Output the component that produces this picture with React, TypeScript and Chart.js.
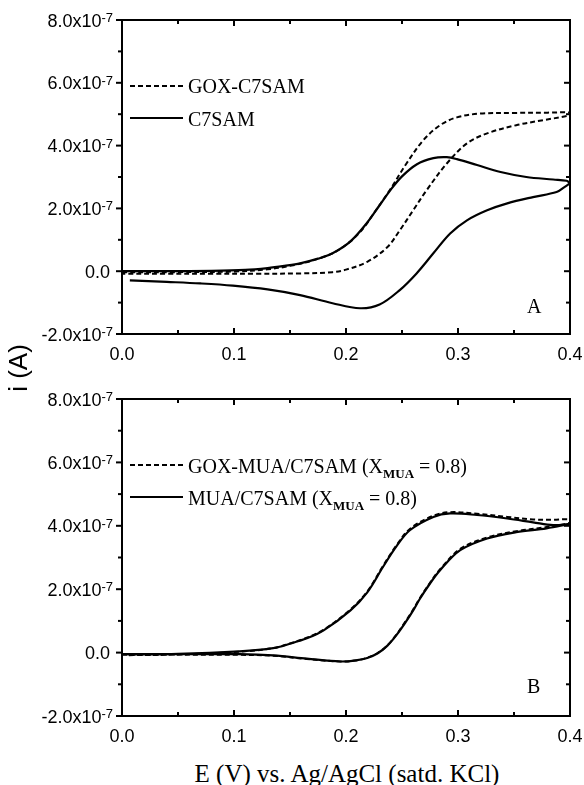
import React, { useEffect, useRef } from 'react';
import { Chart, registerables } from 'chart.js';

Chart.register(...registerables);

// ---------- axes ----------
const X_TICKS = [0, 0.1, 0.2, 0.3, 0.4];
const X_MINOR = [0.05, 0.15, 0.25, 0.35];
const Y_TICKS = [-2, 0, 2, 4, 6, 8]; // units of 1e-7 A
const Y_MINOR = [-1, 1, 3, 5, 7];
const Y_EXP = '-7';

const X_TITLE = 'E (V) vs. Ag/AgCl (satd. KCl)';
const Y_TITLE = 'i (A)';

// ---------- Panel A (current in 1e-7 A) ----------
const A_LABELS = ['GOX-C7SAM', 'C7SAM'];

const A_DASH_FWD_E = [0.0, 0.05, 0.1, 0.13, 0.15, 0.17, 0.188, 0.204, 0.215, 0.224, 0.239, 0.254, 0.269, 0.284, 0.299, 0.32, 0.35, 0.38, 0.4];
const A_DASH_FWD_I = [-0.03, -0.03, -0.01, 0.06, 0.17, 0.34, 0.57, 0.95, 1.35, 1.8, 2.58, 3.43, 4.17, 4.65, 4.9, 5.02, 5.04, 5.05, 5.05];
const A_DASH_REV_E = [0.4, 0.376, 0.352, 0.326, 0.308, 0.29, 0.272, 0.26, 0.248, 0.237, 0.219, 0.2, 0.188, 0.16, 0.12, 0.08, 0.04, 0.0];
const A_DASH_REV_I = [4.97, 4.81, 4.65, 4.39, 4.07, 3.43, 2.58, 1.94, 1.3, 0.77, 0.3, 0.05, -0.03, -0.07, -0.08, -0.08, -0.08, -0.08];

const A_SOLID_FWD_E = [0.0, 0.04, 0.08, 0.11, 0.13, 0.145, 0.159, 0.175, 0.188, 0.204, 0.219, 0.23, 0.24, 0.25, 0.263, 0.278, 0.29, 0.299, 0.317, 0.338, 0.361, 0.385, 0.397, 0.4];
const A_SOLID_FWD_I = [0.0, 0.0, 0.01, 0.04, 0.1, 0.17, 0.25, 0.4, 0.57, 0.95, 1.55, 2.1, 2.6, 3.02, 3.4, 3.6, 3.63, 3.57, 3.38, 3.16, 3.0, 2.92, 2.88, 2.8];
const A_SOLID_REV_E = [0.4, 0.395, 0.388, 0.367, 0.344, 0.326, 0.308, 0.293, 0.278, 0.263, 0.248, 0.23, 0.2125, 0.188, 0.159, 0.13, 0.099, 0.07, 0.04, 0.007];
const A_SOLID_REV_I = [2.8, 2.68, 2.52, 2.36, 2.16, 1.94, 1.62, 1.2, 0.57, -0.07, -0.6, -1.06, -1.18, -1.02, -0.76, -0.58, -0.46, -0.39, -0.34, -0.29];

// ---------- Panel B (current in 1e-7 A) ----------
const B_LABEL_MAIN = ['GOX-MUA/C7SAM (X', 'MUA/C7SAM (X'];
const B_LABEL_SUB = 'MUA';
const B_LABEL_TAIL = ' = 0.8)';

const B_DASH_FWD_E = [0.0, 0.05, 0.105, 0.135, 0.15, 0.165, 0.18, 0.204, 0.219, 0.233, 0.245, 0.257, 0.278, 0.293, 0.317, 0.344, 0.367, 0.385, 0.4];
const B_DASH_FWD_I = [-0.07, -0.06, 0.03, 0.14, 0.29, 0.47, 0.72, 1.36, 1.93, 2.73, 3.38, 3.9, 4.32, 4.43, 4.38, 4.28, 4.2, 4.19, 4.2];
const B_DASH_REV_E = [0.4, 0.379, 0.352, 0.326, 0.302, 0.284, 0.275, 0.266, 0.26, 0.254, 0.245, 0.237, 0.228, 0.219, 0.21, 0.195, 0.165, 0.135, 0.105, 0.05, 0.005];
const B_DASH_REV_I = [4.1, 3.96, 3.83, 3.63, 3.27, 2.63, 2.2, 1.72, 1.36, 1.03, 0.57, 0.23, -0.02, -0.16, -0.24, -0.28, -0.2, -0.1, -0.07, -0.07, -0.08];

const B_SOLID_FWD_E = [0.0, 0.05, 0.105, 0.135, 0.15, 0.165, 0.18, 0.204, 0.219, 0.233, 0.245, 0.257, 0.278, 0.293, 0.317, 0.344, 0.367, 0.385, 0.4];
const B_SOLID_FWD_I = [-0.05, -0.04, 0.04, 0.14, 0.28, 0.45, 0.7, 1.33, 1.9, 2.7, 3.35, 3.86, 4.28, 4.39, 4.34, 4.23, 4.11, 4.02, 4.06];
const B_SOLID_REV_E = [0.4, 0.379, 0.352, 0.326, 0.302, 0.284, 0.275, 0.266, 0.26, 0.254, 0.245, 0.237, 0.228, 0.219, 0.21, 0.195, 0.165, 0.135, 0.105, 0.05, 0.005];
const B_SOLID_REV_I = [4.06, 3.92, 3.8, 3.6, 3.23, 2.6, 2.18, 1.7, 1.33, 1.0, 0.55, 0.22, -0.03, -0.17, -0.24, -0.28, -0.19, -0.09, -0.05, -0.05, -0.06];

const SANS = '"Liberation Sans", Arial, sans-serif';
const SERIF = '"Liberation Serif", "Times New Roman", serif';

const toPts = (fe: number[], fi: number[], re: number[], ri: number[]) => [
  ...fe.map((x, k) => ({ x, y: fi[k] })),
  ...re.map((x, k) => ({ x, y: ri[k] })),
];

const framePlugin = {
  id: 'frame',
  afterDraw(chart: any, _args: any, opts: any) {
    const { ctx, chartArea: a, scales } = chart;
    const xs = scales.x;
    const ys = scales.y;
    ctx.save();
    ctx.strokeStyle = '#000';
    ctx.lineWidth = 2;
    ctx.setLineDash([]);
    ctx.strokeRect(a.left, a.top, a.right - a.left, a.bottom - a.top);
    const seg = (x1: number, y1: number, x2: number, y2: number) => {
      ctx.beginPath();
      ctx.moveTo(x1, y1);
      ctx.lineTo(x2, y2);
      ctx.stroke();
    };
    const xt = (v: number, len: number) => {
      const p = xs.getPixelForValue(v);
      seg(p, a.bottom, p, a.bottom - len);
      seg(p, a.top, p, a.top + len);
    };
    const yt = (v: number, len: number) => {
      const p = ys.getPixelForValue(v);
      seg(a.left - len, p, a.left, p);
      seg(a.right - len, p, a.right, p);
    };
    X_TICKS.forEach((v) => xt(v, 6));
    X_MINOR.forEach((v) => xt(v, 4));
    Y_TICKS.forEach((v) => yt(v, 6));
    Y_MINOR.forEach((v) => yt(v, 4));

    ctx.fillStyle = '#000';
    ctx.textAlign = 'right';
    ctx.textBaseline = 'alphabetic';
    Y_TICKS.forEach((v) => {
      const p = ys.getPixelForValue(v);
      if (v === 0) {
        ctx.font = '18px ' + SANS;
        ctx.fillText('0.0', a.left - 12, p + 6.5);
        return;
      }
      const xr = a.left - 9;
      ctx.font = '13px ' + SANS;
      const w = ctx.measureText(Y_EXP).width;
      ctx.fillText(Y_EXP, xr, p + 2);
      ctx.font = '18px ' + SANS;
      ctx.fillText(v.toFixed(1) + 'x10', xr - w, p + 6.5);
    });

    (opts.legendY || []).forEach((y: number, k: number) => {
      const ds = chart.data.datasets[k];
      ctx.lineWidth = ds.borderWidth;
      ctx.setLineDash(ds.borderDash || []);
      seg(130, y, 183, y);
    });
    ctx.restore();
  },
};

function makeConfig(dashPts: any[], solidPts: any[], padTop: number, legendY: number[]) {
  return {
    type: 'scatter' as const,
    data: {
      datasets: [
        {
          data: dashPts,
          showLine: true,
          borderColor: '#000',
          borderWidth: 2,
          borderDash: [5, 3],
          pointRadius: 0,
          tension: 0.35,
          fill: false,
        },
        {
          data: solidPts,
          showLine: true,
          borderColor: '#000',
          borderWidth: 2.2,
          pointRadius: 0,
          tension: 0.35,
          fill: false,
        },
      ],
    },
    options: {
      animation: false as const,
      responsive: false,
      maintainAspectRatio: false,
      layout: { padding: { top: padTop, right: 14, left: 0, bottom: 0 } },
      plugins: {
        legend: { display: false },
        tooltip: { enabled: false },
        frame: { legendY },
      },
      scales: {
        x: {
          type: 'linear' as const,
          min: 0,
          max: 0.4,
          grid: { display: false, drawTicks: false },
          border: { display: false },
          ticks: {
            stepSize: 0.1,
            color: '#000',
            padding: 10,
            maxRotation: 0,
            font: { family: SANS, size: 18 },
            callback: (v: any) => Number(v).toFixed(1),
          },
          afterFit: (s: any) => {
            s.height = 36;
            s.paddingLeft = 0;
            s.paddingRight = 0;
          },
        },
        y: {
          type: 'linear' as const,
          min: -2,
          max: 8,
          grid: { display: false, drawTicks: false },
          border: { display: false },
          ticks: { display: false },
          afterFit: (s: any) => {
            s.width = 122;
            s.paddingTop = 0;
            s.paddingBottom = 0;
          },
        },
      },
    },
    plugins: [framePlugin],
  };
}

function Panel({ top, height, config }: { top: number; height: number; config: any }) {
  const ref = useRef<HTMLCanvasElement | null>(null);
  useEffect(() => {
    if (!ref.current) return;
    const chart = new Chart(ref.current, config);
    return () => chart.destroy();
  }, []);
  return (
    <canvas
      ref={ref}
      width={584}
      height={height}
      style={{ position: 'absolute', left: 0, top, width: 584, height }}
    />
  );
}

const serifText = (size: number): React.CSSProperties => ({
  position: 'absolute',
  fontFamily: SERIF,
  fontSize: size,
  lineHeight: `${size}px`,
  whiteSpace: 'nowrap',
  color: '#000',
});

export default function App() {
  const cfgA = makeConfig(
    toPts(A_DASH_FWD_E, A_DASH_FWD_I, A_DASH_REV_E, A_DASH_REV_I),
    toPts(A_SOLID_FWD_E, A_SOLID_FWD_I, A_SOLID_REV_E, A_SOLID_REV_I),
    20,
    [86, 118]
  );
  const cfgB = makeConfig(
    toPts(B_DASH_FWD_E, B_DASH_FWD_I, B_DASH_REV_E, B_DASH_REV_I),
    toPts(B_SOLID_FWD_E, B_SOLID_FWD_I, B_SOLID_REV_E, B_SOLID_REV_I),
    29,
    [95, 127]
  );
  const subStyle: React.CSSProperties = {
    fontSize: 13,
    fontWeight: 'bold',
    verticalAlign: '-5px',
    lineHeight: 0,
  };
  return (
    <div style={{ position: 'absolute', left: 0, top: 0, width: 584, height: 785, background: '#fff', overflow: 'hidden' }}>
      <Panel top={0} height={370} config={cfgA} />
      <Panel top={370} height={382} config={cfgB} />

      <div style={{ ...serifText(20), left: 188, top: 75.5 }}>{A_LABELS[0]}</div>
      <div style={{ ...serifText(20), left: 188, top: 109 }}>{A_LABELS[1]}</div>

      <div style={{ ...serifText(20), left: 188, top: 456 }}>
        {B_LABEL_MAIN[0]}
        <span style={subStyle}>{B_LABEL_SUB}</span>
        {B_LABEL_TAIL}
      </div>
      <div style={{ ...serifText(20), left: 188, top: 488 }}>
        {B_LABEL_MAIN[1]}
        <span style={subStyle}>{B_LABEL_SUB}</span>
        {B_LABEL_TAIL}
      </div>

      <div style={{ ...serifText(20), left: 527, top: 296 }}>A</div>
      <div style={{ ...serifText(20), left: 527, top: 676 }}>B</div>

      <div style={{ ...serifText(25), left: 147, width: 400, textAlign: 'center', top: 760.5 }}>{X_TITLE}</div>

      <div
        style={{
          position: 'absolute',
          left: 18 - 60,
          top: 368 - 13,
          width: 120,
          height: 26,
          lineHeight: '26px',
          fontSize: 26,
          fontFamily: SANS,
          textAlign: 'center',
          transform: 'rotate(-90deg)',
          whiteSpace: 'nowrap',
          color: '#000',
        }}
      >
        {Y_TITLE}
      </div>
    </div>
  );
}
